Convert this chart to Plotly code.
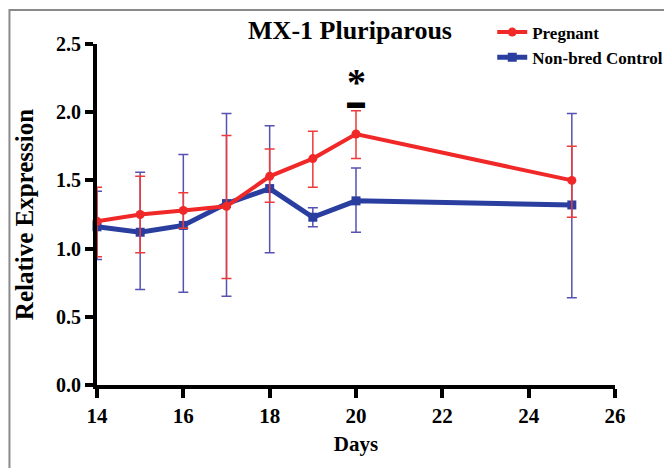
import plotly.graph_objects as go

days = [14, 15, 16, 17, 18, 19, 20, 25]
pregnant = [1.20, 1.25, 1.28, 1.31, 1.53, 1.66, 1.84, 1.50]
pregnant_up = [0.25, 0.28, 0.13, 0.52, 0.20, 0.20, 0.17, 0.25]
pregnant_down = [0.26, 0.28, 0.13, 0.53, 0.19, 0.21, 0.18, 0.27]
control = [1.16, 1.12, 1.17, 1.33, 1.44, 1.23, 1.35, 1.32]
control_up = [0.26, 0.44, 0.52, 0.66, 0.46, 0.07, 0.24, 0.67]
control_down = [0.24, 0.42, 0.49, 0.68, 0.47, 0.07, 0.23, 0.68]
x_ticks = [14, 16, 18, 20, 22, 24, 26]
y_ticks = [0.0, 0.5, 1.0, 1.5, 2.0, 2.5]

FONT = "Liberation Serif"

fig = go.Figure()
fig.add_trace(go.Scatter(
    x=days, y=control, name="<b>Non-bred Control</b>", mode="lines+markers",
    line=dict(color="#2a3ea0", width=5),
    marker=dict(symbol="square", size=9, color="#2a3ea0"),
    error_y=dict(type="data", symmetric=False, array=control_up, arrayminus=control_down,
                 color="#5552b0", thickness=1.5, width=5),
    cliponaxis=False,
))
fig.add_trace(go.Scatter(
    x=days, y=pregnant, name="<b>Pregnant</b>", mode="lines+markers",
    line=dict(color="#f02828", width=4),
    marker=dict(symbol="circle", size=9, color="#f02828"),
    error_y=dict(type="data", symmetric=False, array=pregnant_up, arrayminus=pregnant_down,
                 color="#ee3a3a", thickness=1.5, width=5),
    cliponaxis=False,
))

fig.add_annotation(x=20, y=2.22, text="<b>*</b>", showarrow=False,
                   font=dict(family=FONT, size=38, color="black"), yanchor="middle")
fig.add_annotation(x=20, y=2.075, text="<b>▬</b>", showarrow=False,
                   font=dict(family=FONT, size=18, color="black"), yanchor="middle")

fig.add_shape(type="rect", xref="paper", yref="paper", x0=-0.169, x1=1.2, y0=-0.25, y1=1.1,
              line=dict(color="#8a8a8a", width=2), layer="below")

fig.update_layout(
    width=672, height=468,
    margin=dict(l=89, r=65, t=36, b=91, autoexpand=False),
    paper_bgcolor="white", plot_bgcolor="white",
    font=dict(family=FONT, color="black"),
    title=dict(text="<b>MX-1 Pluriparous</b>", x=0.509, xanchor="center", y=0.953, yanchor="middle",
               font=dict(family=FONT, size=26, color="black")),
    showlegend=True,
    legend=dict(x=0.763, y=0.986, xref="paper", yref="container", xanchor="left", yanchor="top",
                traceorder="reversed",
                font=dict(family=FONT, size=17, color="black"), bgcolor="rgba(0,0,0,0)",
                itemwidth=30, tracegroupgap=0),
    xaxis=dict(range=[14, 26], tickvals=x_ticks, ticktext=[f"<b>{v}</b>" for v in x_ticks],
               showgrid=False, zeroline=False, showline=True, linecolor="black", linewidth=4,
               ticks="outside", ticklen=9, tickwidth=4, tickcolor="black",
               tickfont=dict(family=FONT, size=21, color="black"), automargin=False,
               title=dict(text="<b>Days</b>", font=dict(family=FONT, size=21, color="black"), standoff=10)),
    yaxis=dict(range=[0, 2.5], tickvals=y_ticks, ticktext=[f"<b>{v:.1f}</b>" for v in y_ticks],
               showgrid=False, zeroline=False, showline=True, linecolor="black", linewidth=4,
               ticks="outside", ticklen=8, tickwidth=4, tickcolor="black",
               tickfont=dict(family=FONT, size=20, color="black"), automargin=False,
               title=dict(text="<b>Relative Expression</b>", font=dict(family=FONT, size=25, color="black"), standoff=16)),
)

fig.write_html("out.html")
